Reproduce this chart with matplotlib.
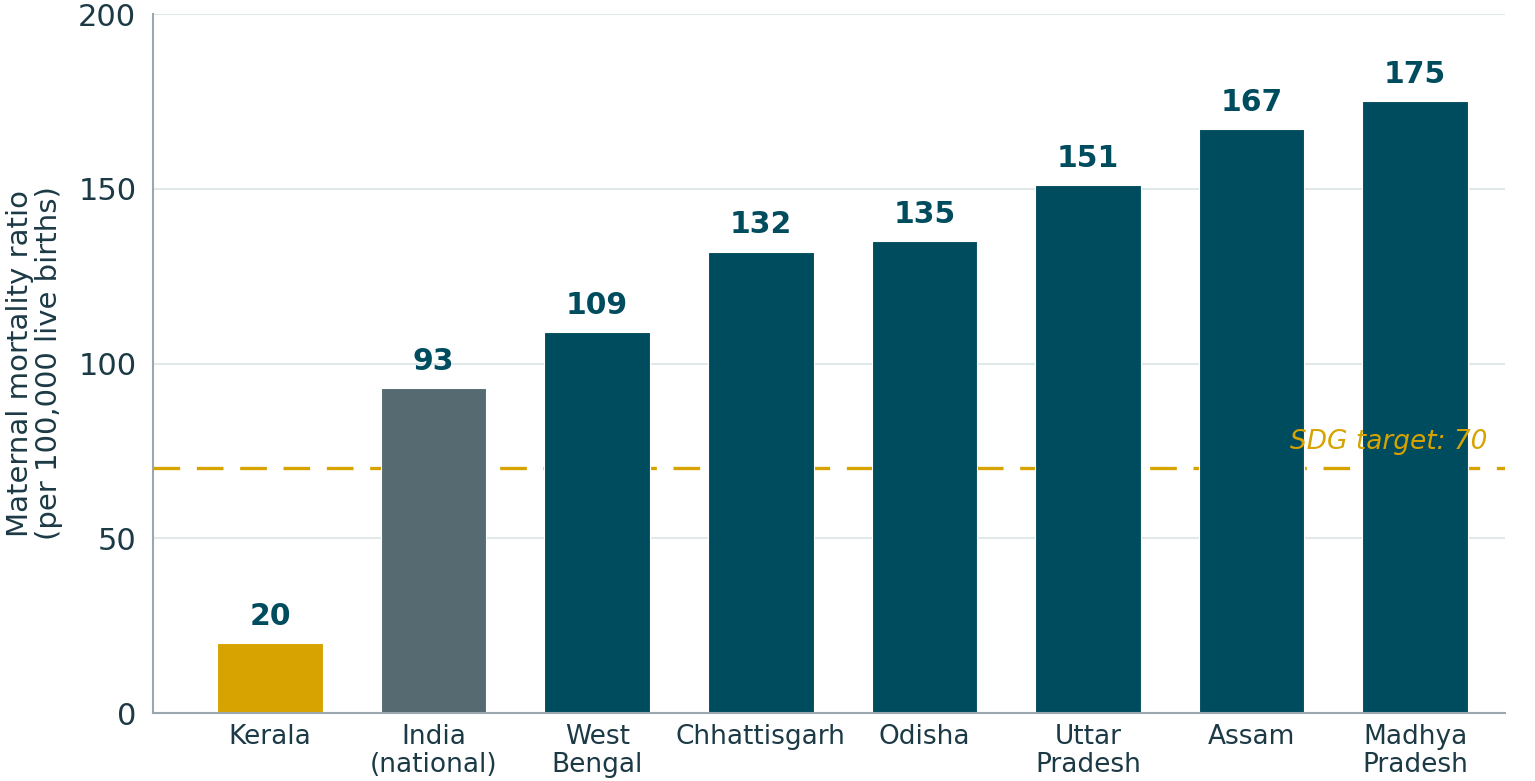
import matplotlib
matplotlib.use("Agg")
import matplotlib.pyplot as plt
from matplotlib.transforms import blended_transform_factory

categories = ["Kerala", "India\n(national)", "West\nBengal", "Chhattisgarh", "Odisha",
              "Uttar\nPradesh", "Assam", "Madhya\nPradesh"]
values = [20, 93, 109, 132, 135, 151, 167, 175]
bar_colors = ["#D6A300", "#566A72", "#004C5F", "#004C5F", "#004C5F", "#004C5F", "#004C5F", "#004C5F"]
sdg_target = 70
yticks = [0, 50, 100, 150, 200]

TEXT = "#1C3A45"
TEAL = "#004C5F"
GOLD = "#D6A300"

fig = plt.figure(figsize=(15.35, 7.81), dpi=100)
ax = fig.add_axes([0.0997, 0.087, 0.8808, 0.895])

x = list(range(len(categories)))
ax.axhline(sdg_target, color=GOLD, lw=2.4, dashes=(8, 5), zorder=1)
bars = ax.bar(x, values, width=0.645, color=bar_colors, edgecolor="white", linewidth=0.8, zorder=2)

for xi, v in zip(x, values):
    ax.annotate(str(v), (xi, v), xytext=(0, 9), textcoords="offset points",
                ha="center", va="bottom", fontsize=21.5, fontweight="bold", color=TEAL, zorder=4)

trans = blended_transform_factory(ax.transAxes, ax.transData)
ax.annotate(f"SDG target: {sdg_target}", (0.987, sdg_target), xycoords=trans,
            xytext=(0, 10), textcoords="offset points", ha="right", va="bottom",
            fontsize=19, fontstyle="italic", color=GOLD, zorder=5)

ax.set_xlim(-0.715, 7.55)
ax.set_ylim(0, 200)
ax.set_yticks(yticks)
ax.set_yticklabels([str(t) for t in yticks], fontsize=22, color=TEXT)
ax.set_xticks(x)
ax.set_xticklabels(categories, fontsize=19, color=TEXT, linespacing=1.1)
ax.tick_params(axis="both", length=0)
ax.tick_params(axis="y", pad=12)
ax.tick_params(axis="x", pad=8)

ax.grid(axis="y", color="#E1E8EA", lw=1.5, zorder=0)
ax.set_axisbelow(True)
for s in ["top", "right"]:
    ax.spines[s].set_visible(False)
for s in ["left", "bottom"]:
    ax.spines[s].set_color("#9AA8AE")
    ax.spines[s].set_linewidth(1.5)

ax.set_ylabel("Maternal mortality ratio\n(per 100,000 live births)", fontsize=21, color=TEXT,
              linespacing=1.05, va="center", ha="center")
ax.yaxis.set_label_coords(-0.0875, 0.5)

fig.savefig("out.png", dpi=100, facecolor="white")
